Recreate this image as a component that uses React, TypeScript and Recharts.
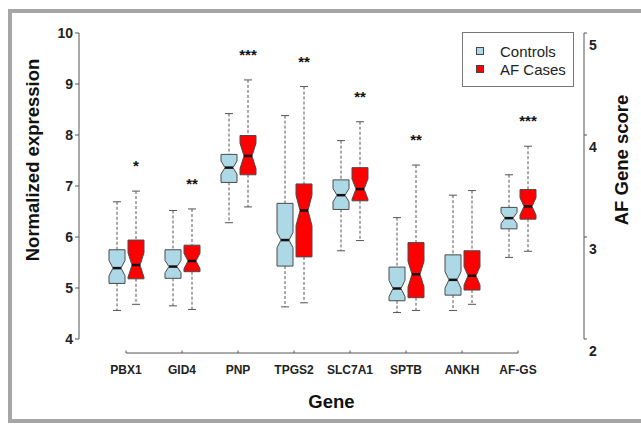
import React from "react";
import { ComposedChart, Bar, XAxis, YAxis, ReferenceLine, Legend, Label } from "recharts";

const genes = ["PBX1", "GID4", "PNP", "TPGS2", "SLC7A1", "SPTB", "ANKH", "AF-GS"];
// AF-GS is read against the right axis (AF Gene score)
const rightAxisGenes = ["AF-GS"];
const significance = ["*", "**", "***", "**", "**", "**", "", "***"];

// Controls: whisker low, Q1, median, Q3, whisker high, notch half-length
const ctrlLo = [4.56, 4.65, 6.28, 4.63, 5.73, 4.52, 4.56, 2.8];
const ctrlQ1 = [5.09, 5.19, 7.07, 5.43, 6.54, 4.75, 4.86, 3.08];
const ctrlMed = [5.39, 5.42, 7.36, 5.94, 6.82, 4.99, 5.16, 3.185];
const ctrlQ3 = [5.75, 5.75, 7.62, 6.66, 7.12, 5.41, 5.65, 3.29];
const ctrlHi = [6.69, 6.52, 8.42, 8.38, 7.89, 6.38, 6.82, 3.61];
const ctrlNotch = [0.15, 0.12, 0.13, 0.15, 0.13, 0.16, 0.16, 0.055];

// AF cases
const afLo = [4.68, 4.58, 6.59, 4.71, 5.93, 4.56, 4.68, 2.86];
const afQ1 = [5.18, 5.32, 7.22, 5.61, 6.71, 4.81, 4.96, 3.175];
const afMed = [5.45, 5.53, 7.59, 6.52, 6.94, 5.27, 5.24, 3.3];
const afQ3 = [5.94, 5.84, 7.99, 7.04, 7.36, 5.89, 5.73, 3.465];
const afHi = [6.9, 6.55, 9.08, 8.95, 8.26, 7.41, 6.91, 3.89];
const afNotch = [0.24, 0.15, 0.25, 0.3, 0.2, 0.25, 0.18, 0.085];

const leftTicks = [4, 5, 6, 7, 8, 9, 10];
const rightTicks = [2, 3, 4, 5];
const groups = ["Controls", "AF Cases"];
const groupFills = ["#add8e6", "#ff0000"];

// value on the left scale where the (detached) gene axis line sits
const X_AXIS_AT = 3.725;

const FONT = '"Liberation Sans", Arial, Helvetica, sans-serif';
const LINE = "#555";

type Stats = { lo: number; q1: number; med: number; q3: number; hi: number; notch: number };

const rows = genes.map((gene, i) => {
  const c: Stats = { lo: ctrlLo[i], q1: ctrlQ1[i], med: ctrlMed[i], q3: ctrlQ3[i], hi: ctrlHi[i], notch: ctrlNotch[i] };
  const a: Stats = { lo: afLo[i], q1: afQ1[i], med: afMed[i], q3: afQ3[i], hi: afHi[i], notch: afNotch[i] };
  const right = rightAxisGenes.includes(gene);
  return {
    gene,
    sig: significance[i],
    ctrlL: right ? null : c,
    afL: right ? null : a,
    ctrlR: right ? c : null,
    afR: right ? a : null,
  };
});

const range = (key: string) => (r: any) => (r[key] ? [r[key].lo, r[key].hi] : null);

function makeBox(key: string, fill: string, withSig: boolean) {
  return (props: any) => {
    const s: Stats | null = props.payload?.[key];
    if (!s || !props.height) return <g />;
    const top = Math.min(props.y, props.y + props.height);
    const k = Math.abs(props.height) / (s.hi - s.lo);
    const py = (v: number) => top + (s.hi - v) * k;
    const cx = props.x + props.width / 2;
    const w = props.width / 2;
    const nw = w / 2;
    const pts = [
      [cx - w, py(s.q1)], [cx + w, py(s.q1)], [cx + w, py(s.med - s.notch)],
      [cx + nw, py(s.med)], [cx + w, py(s.med + s.notch)], [cx + w, py(s.q3)],
      [cx - w, py(s.q3)], [cx - w, py(s.med + s.notch)], [cx - nw, py(s.med)],
      [cx - w, py(s.med - s.notch)],
    ];
    return (
      <g>
        <line x1={cx} x2={cx} y1={py(s.hi)} y2={py(s.q3)} stroke={LINE} strokeDasharray="3 2" />
        <line x1={cx} x2={cx} y1={py(s.q1)} y2={py(s.lo)} stroke={LINE} strokeDasharray="3 2" />
        <line x1={cx - nw} x2={cx + nw} y1={py(s.hi)} y2={py(s.hi)} stroke={LINE} />
        <line x1={cx - nw} x2={cx + nw} y1={py(s.lo)} y2={py(s.lo)} stroke={LINE} />
        <polygon points={pts.map(p => p.join(",")).join(" ")} fill={fill} stroke="#4a4a4a" strokeWidth={1} />
        <line x1={cx - nw} x2={cx + nw} y1={py(s.med)} y2={py(s.med)} stroke="#111" strokeWidth={2.5} />
        {withSig && props.payload.sig ? (
          <text x={cx} y={py(s.hi) - 20} textAnchor="middle" fontSize={15} fontWeight="bold" fill="#111" fontFamily={FONT}>
            {props.payload.sig}
          </text>
        ) : null}
      </g>
    );
  };
}

const RightTick = ({ x, y, payload }: any) => (
  <text x={x} y={y + 12} dy="0.355em" textAnchor="start" fontSize={14} fontWeight="bold" fill="#222" fontFamily={FONT}>
    {payload.value}
  </text>
);

const LegendBox = () => (
  <div style={{
    width: 112, height: 55, boxSizing: "border-box", border: "1px solid #777",
    background: "#fff", paddingTop: 9, fontFamily: FONT, fontSize: 15, color: "#222",
  }}>
    {groups.map((g, i) => (
      <div key={g} style={{ display: "flex", alignItems: "center", height: 18 }}>
        <span style={{
          display: "inline-block", width: 8, height: 8, boxSizing: "border-box",
          background: groupFills[i], border: "1px solid #444", marginLeft: 13, marginRight: 16,
        }} />
        {g}
      </div>
    ))}
  </div>
);

export default function App() {
  return (
    <div style={{ position: "absolute", left: 0, top: 0, width: 641, height: 424 }}>
      <div style={{
        position: "absolute", left: 8, top: 9, width: 633, height: 414, boxSizing: "border-box",
        border: "4px solid #a6a6a6", borderRight: "none",
      }} />
      <ComposedChart
        width={641} height={424} data={rows}
        margin={{ top: 33, right: 27, bottom: 25, left: 19 }}
        barGap={3}
        style={{ fontFamily: FONT }}
      >
        <XAxis
          xAxisId="x" dataKey="gene" type="category" interval={0}
          padding={{ left: 19, right: 38 }} height={60}
          axisLine={false} tickLine={false} tickSize={6} tickMargin={20.7}
          tick={{ fill: "#222", fontSize: 12, fontWeight: "bold" }}
        >
          <Label content={({ viewBox }: any) => (
            <text x={viewBox.x + viewBox.width / 2} y={viewBox.y + 69} textAnchor="middle"
              fontSize={18.5} fontWeight="bold" fill="#111" fontFamily={FONT}>Gene</text>
          )} />
        </XAxis>
        <XAxis xAxisId="x2" dataKey="gene" type="category" padding={{ left: 19, right: 38 }} hide />
        <YAxis
          yAxisId="left" domain={[4, 10]} ticks={leftTicks} interval={0} allowDataOverflow
          width={60} tickSize={4} tickMargin={2}
          axisLine={{ stroke: LINE }} tickLine={{ stroke: LINE }}
          tick={{ fill: "#222", fontSize: 14, fontWeight: "bold" }}
        >
          <Label content={({ viewBox }: any) => (
            <text x={viewBox.x + 20} y={160} transform={`rotate(-90, ${viewBox.x + 20}, 160)`} textAnchor="middle"
              fontSize={18.5} fontWeight="bold" fill="#111" fontFamily={FONT}>Normalized expression</text>
          )} />
        </YAxis>
        <YAxis
          yAxisId="right" orientation="right" domain={[2, 5]} ticks={rightTicks} interval={0} allowDataOverflow
          width={30} tickSize={3} tickMargin={2}
          axisLine={{ stroke: LINE }} tickLine={{ stroke: LINE }} tick={<RightTick />}
        >
          <Label content={({ viewBox }: any) => (
            <text x={viewBox.x + 44} y={160} transform={`rotate(-90, ${viewBox.x + 44}, 160)`} textAnchor="middle"
              fontSize={18.5} fontWeight="bold" fill="#111" fontFamily={FONT}>AF Gene score</text>
          )} />
        </YAxis>

        <ReferenceLine
          xAxisId="x" yAxisId="left" ifOverflow="visible" stroke={LINE}
          segment={[{ x: genes[0], y: X_AXIS_AT }, { x: genes[genes.length - 1], y: X_AXIS_AT }]}
        />
        {genes.map(g => (
          <ReferenceLine
            key={g} xAxisId="x" yAxisId="left" ifOverflow="visible" stroke={LINE}
            segment={[{ x: g, y: X_AXIS_AT }, { x: g, y: X_AXIS_AT + 0.05 }]}
          />
        ))}

        <Bar xAxisId="x" yAxisId="left" dataKey={range("ctrlL")} name={groups[0]} barSize={16}
          fill={groupFills[0]} shape={makeBox("ctrlL", groupFills[0], false)} isAnimationActive={false} />
        <Bar xAxisId="x" yAxisId="left" dataKey={range("afL")} name={groups[1]} barSize={16}
          fill={groupFills[1]} shape={makeBox("afL", groupFills[1], true)} isAnimationActive={false} />
        <Bar xAxisId="x2" yAxisId="right" dataKey={range("ctrlR")} name={groups[0] + " score"} barSize={16}
          fill={groupFills[0]} shape={makeBox("ctrlR", groupFills[0], false)} isAnimationActive={false} />
        <Bar xAxisId="x2" yAxisId="right" dataKey={range("afR")} name={groups[1] + " score"} barSize={16}
          fill={groupFills[1]} shape={makeBox("afR", groupFills[1], true)} isAnimationActive={false} />

        <Legend
          layout="vertical" align="center" verticalAlign="middle"
          content={<LegendBox />}
          wrapperStyle={{ left: 462, top: 32, width: 112, height: 55 }}
        />
      </ComposedChart>
    </div>
  );
}
